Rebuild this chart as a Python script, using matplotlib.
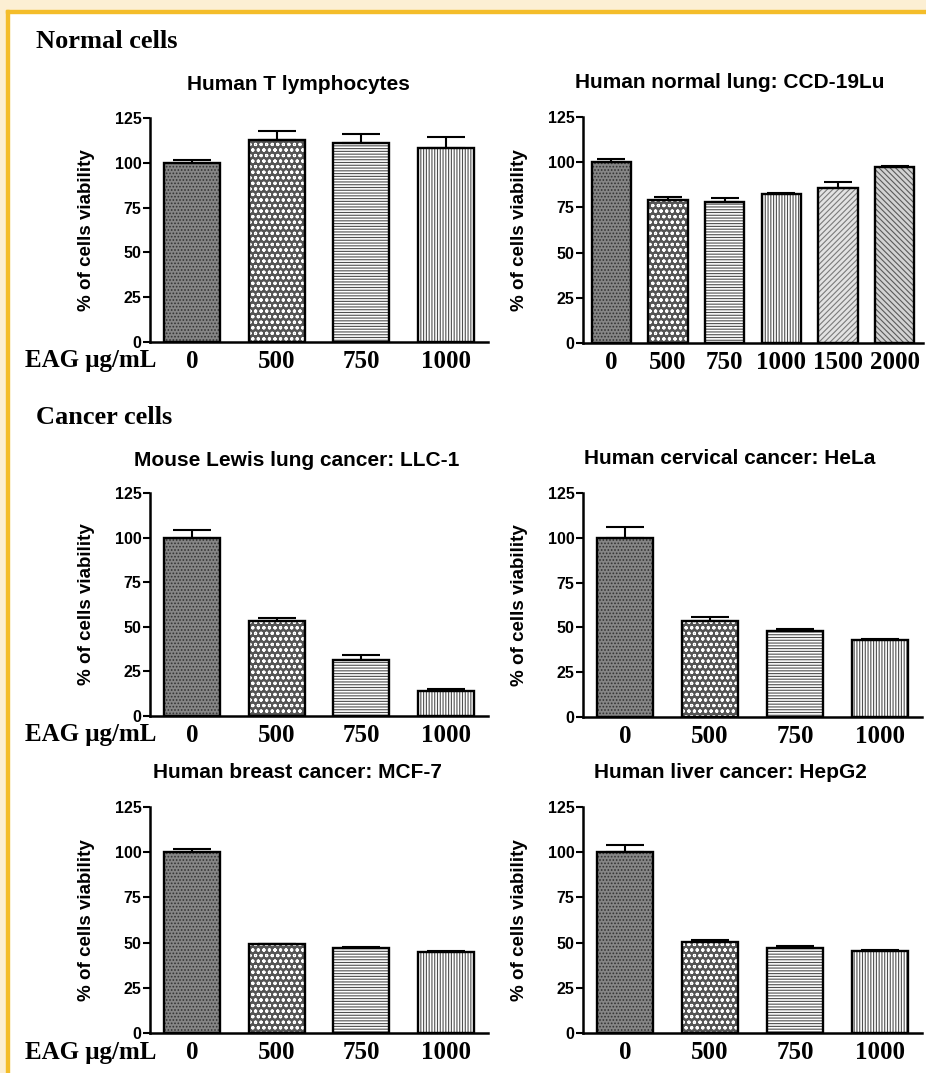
import matplotlib
matplotlib.use("Agg")
import matplotlib.pyplot as plt
from matplotlib.patches import Rectangle

# ---- data ----
doses_4 = ['0', '500', '750', '1000']
doses_6 = ['0', '500', '750', '1000', '1500', '2000']

t_lymph = [100, 113, 111, 108]
t_lymph_err = [1.5, 5, 5, 6.5]

ccd19lu = [100, 79, 78, 82.5, 86, 97.5]
ccd19lu_err = [2, 1.5, 2, 0.3, 3, 0.5]

llc1 = [100, 53, 31.5, 14]
llc1_err = [4, 1.7, 2.5, 1.2]

hela = [100, 53.5, 48, 43]
hela_err = [5.8, 2.2, 1, 0.5]

mcf7 = [100, 49, 47, 45]
mcf7_err = [2, 0.3, 0.6, 0.4]

hepg2 = [100, 50.3, 47, 45.3]
hepg2_err = [4, 1.1, 1.3, 0.6]

# fill colour, hatch colour, hatch for each dose bar
FILLS = ['#868686', '#555555', 'white', 'white', '#e2e2e2', '#d2d2d2']
HCOLS = ['#333333', 'white', '#505050', '#505050', '#7a7a7a', '#5a5a5a']
HATCHES = ['.....', 'ooo', '------', '||||||', '//////', '\\\\\\\\\\\\']

plt.rcParams['hatch.linewidth'] = 0.8
SANS = 'Liberation Sans'
SERIF = 'Liberation Serif'

W, H = 926, 1073
fig = plt.figure(figsize=(W / 100, H / 100), dpi=100)
fig.patch.set_facecolor('white')

# cream margin + yellow frame lines (top and left)
cream = '#fcefd3'
gold = '#f4bd2a'
fig.patches.append(Rectangle((0, 1 - 10 / H), 1, 10 / H, transform=fig.transFigure, color=cream, zorder=-5))
fig.patches.append(Rectangle((0, 0), 6 / W, 1, transform=fig.transFigure, color=cream, zorder=-5))
fig.patches.append(Rectangle((6 / W, 1 - 13 / H), 1, 3 / H, transform=fig.transFigure, color=gold, zorder=-4))
fig.patches.append(Rectangle((6 / W, 0), 3 / W, 1 - 10 / H, transform=fig.transFigure, color=gold, zorder=-4))


def px_axes(left, top, right, bottom):
    return fig.add_axes([left / W, 1 - bottom / H, (right - left) / W, (bottom - top) / H])


def panel(ax, labels, vals, errs, title, title_x, title_y, width, capsize, eag=False):
    x = list(range(len(vals)))
    for i in x:
        # pattern layer (hatch takes the edge colour), then black outline
        ax.bar(i, vals[i], width=width, color=FILLS[i], hatch=HATCHES[i],
               edgecolor=HCOLS[i], linewidth=0, zorder=2)
        ax.bar(i, vals[i], width=width, fill=False, edgecolor='black', linewidth=1.7, zorder=2.5)
    ax.errorbar(x, vals, yerr=[[0] * len(errs), errs], fmt='none', ecolor='black',
                elinewidth=1.5, capsize=capsize, capthick=1.5, zorder=3)
    ax.set_xlim(-0.5, len(vals) - 0.5)
    ax.set_ylim(0, 125)
    ax.set_yticks([0, 25, 50, 75, 100, 125])
    ax.set_xticks(x)
    ax.set_xticklabels(labels, fontfamily=SERIF, fontweight='bold', fontsize=18)
    for t in ax.get_yticklabels():
        t.set_fontfamily(SANS)
        t.set_fontweight('bold')
        t.set_fontsize(11.5)
    ax.tick_params(axis='x', length=0, pad=6)
    ax.tick_params(axis='y', direction='out', length=5, width=1.5, pad=1)
    ax.spines['top'].set_visible(False)
    ax.spines['right'].set_visible(False)
    ax.spines['left'].set_linewidth(1.8)
    ax.spines['bottom'].set_linewidth(1.8)
    ax.set_ylabel('% of cells viability', fontfamily=SANS, fontweight='bold', fontsize=13.5)
    ax.yaxis.set_label_coords(-0.163, 0.5)
    fig.text(title_x / W, 1 - title_y / H, title, ha='center', va='center',
             fontfamily=SANS, fontweight='bold', fontsize=15)
    if eag:
        bb = ax.get_position()
        fig.text(25 / W, bb.y0 - 19 / H, 'EAG \u03bcg/mL', ha='left', va='center',
                 fontfamily=SERIF, fontweight='bold', fontsize=18)


fig.text(36 / W, 1 - 42 / H, 'Normal cells', ha='left', va='center',
         fontfamily=SERIF, fontweight='bold', fontsize=19)
fig.text(36 / W, 1 - 418 / H, 'Cancer cells', ha='left', va='center',
         fontfamily=SERIF, fontweight='bold', fontsize=19)

ax1 = px_axes(150, 118, 488, 342)
panel(ax1, doses_4, t_lymph, t_lymph_err, 'Human T lymphocytes', 298, 85, 0.66, 14, eag=True)

ax2 = px_axes(583, 117, 923, 343)
panel(ax2, doses_6, ccd19lu, ccd19lu_err, 'Human normal lung: CCD-19Lu', 730, 83, 0.69, 10)

ax3 = px_axes(150, 493, 488, 716)
panel(ax3, doses_4, llc1, llc1_err, 'Mouse Lewis lung cancer: LLC-1', 297, 460, 0.66, 14, eag=True)

ax4 = px_axes(583, 493, 922, 717)
panel(ax4, doses_4, hela, hela_err, 'Human cervical cancer: HeLa', 730, 458, 0.66, 14)

ax5 = px_axes(150, 807, 488, 1033)
panel(ax5, doses_4, mcf7, mcf7_err, 'Human breast cancer: MCF-7', 297, 773, 0.66, 14, eag=True)

ax6 = px_axes(583, 807, 922, 1033)
panel(ax6, doses_4, hepg2, hepg2_err, 'Human liver cancer: HepG2', 730, 773, 0.66, 14)

fig.savefig('out.png', dpi=100, facecolor=fig.get_facecolor())
